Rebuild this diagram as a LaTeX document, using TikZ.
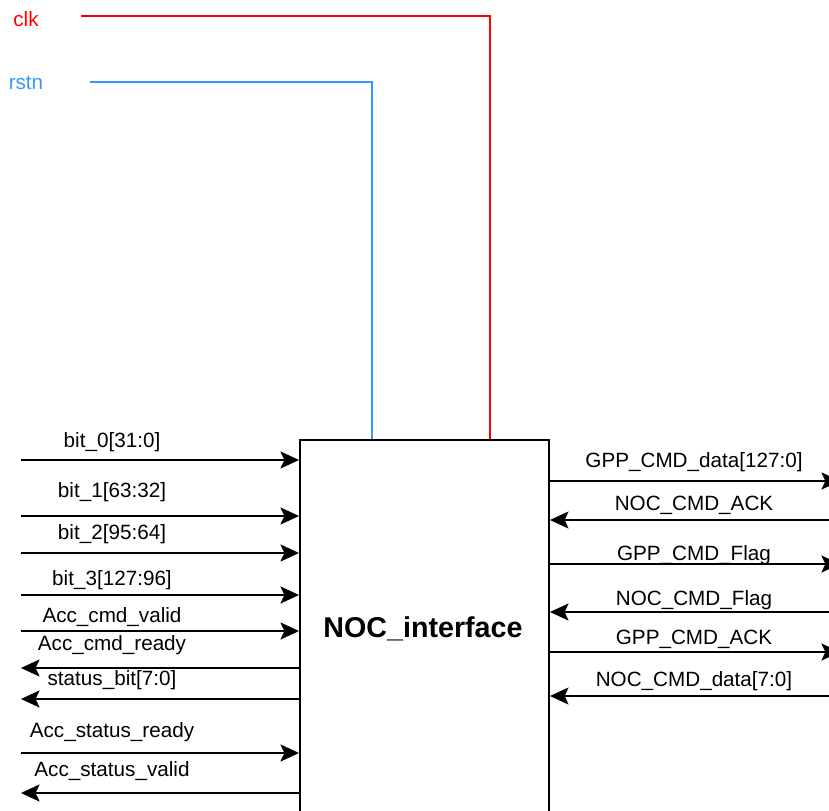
\documentclass[tikz,border=0pt]{standalone}
\usepackage{fontspec}
\setmainfont{Liberation Sans}
\usetikzlibrary{arrows.meta}
\definecolor{clkred}{RGB}{255,0,0}
\definecolor{rstblue}{RGB}{51,153,255}
\begin{document}
\begin{tikzpicture}[x=0.75pt,y=-0.75pt,
  sig/.style={line width=1.5pt},
  arr/.style={sig,-{Stealth[length=14pt,width=13pt,inset=3pt,line width=0pt]}},
  lbl/.style={font=\fontsize{15.5pt}{18pt}\selectfont,anchor=base,inner sep=0pt},
  blk/.style={draw,line width=1.5pt,minimum width=186.75pt,minimum height=300pt,inner sep=0pt,anchor=north west}]
\useasboundingbox (0,0) rectangle (829,811);
\clip (0,0) rectangle (829,811);
\node[blk] (noc) at (299,439) {};
\node[font=\fontsize{21.5pt}{24pt}\selectfont\bfseries,anchor=base,inner sep=0pt] (title) at (423,637) {NOC\_interface};
% clk and rstn
\node[lbl,text=clkred] (clkl) at (26,26) {clk};
\node[lbl,text=rstblue] (rstl) at (26,89) {rstn};
\coordinate (clks) at (81,16);
\coordinate (rsts) at (90,82);
\draw[sig,clkred] (clks) -| (noc.north west -| 490,0);
\draw[sig,rstblue] (rsts) -| (noc.north west -| 372,0);
% left side
\foreach \n/\y/\b/\t in {
  a/460/447/{bit\_0[31:0]},
  b/516/497/{bit\_1[63:32]},
  c/553/539/{bit\_2[95:64]},
  d/595/585/{bit\_3[127:96]},
  e/631/622/{Acc\_cmd\_valid},
  f/668/650/{Acc\_cmd\_ready},
  g/699/685/{status\_bit[7:0]},
  h/753/737/{Acc\_status\_ready},
  i/793/776/{Acc\_status\_valid}}{
  \coordinate (L\n) at (21,\y);
  \node[lbl] (Lt\n) at (112,\b) {\t};
}
\draw[arr] (La) -- (La -| noc.west);
\draw[arr] (Lb) -- (Lb -| noc.west);
\draw[arr] (Lc) -- (Lc -| noc.west);
\draw[arr] (Ld) -- (Ld -| noc.west);
\draw[arr] (Le) -- (Le -| noc.west);
\draw[arr] (Lf -| noc.west) -- (Lf);
\draw[arr] (Lg -| noc.west) -- (Lg);
\draw[arr] (Lh) -- (Lh -| noc.west);
\draw[arr] (Li -| noc.west) -- (Li);
% right side
\foreach \n/\y/\b/\t in {
  a/481/467/{GPP\_CMD\_data[127:0]},
  b/520/510/{NOC\_CMD\_ACK},
  c/564/560/{GPP\_CMD\_Flag},
  d/612/605/{NOC\_CMD\_Flag},
  e/652/644/{GPP\_CMD\_ACK},
  f/696/686/{NOC\_CMD\_data[7:0]}}{
  \coordinate (R\n) at (840,\y);
  \node[lbl] (Rt\n) at (694,\b) {\t};
}
\draw[arr] (Ra -| noc.east) -- (Ra);
\draw[arr] (Rb) -- (Rb -| noc.east);
\draw[arr] (Rc -| noc.east) -- (Rc);
\draw[arr] (Rd) -- (Rd -| noc.east);
\draw[arr] (Re -| noc.east) -- (Re);
\draw[arr] (Rf) -- (Rf -| noc.east);
\end{tikzpicture}
\end{document}
